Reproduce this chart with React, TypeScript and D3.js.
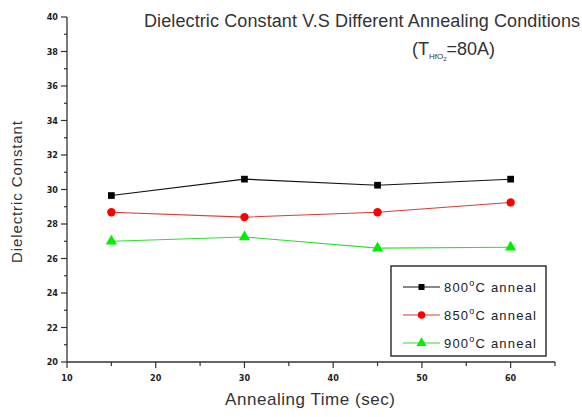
import React, { useEffect, useRef } from "react";
import * as d3 from "d3";

const times = [15, 30, 45, 60];
const anneal800 = [29.65, 30.6, 30.25, 30.6];
const anneal850 = [28.68, 28.4, 28.68, 29.25];
const anneal900 = [27.0, 27.25, 26.6, 26.65];
const seriesNames = ["800", "850", "900"];
const xTicks = [10, 20, 30, 40, 50, 60];
const yTicks = [20, 22, 24, 26, 28, 30, 32, 34, 36, 38, 40];

const App = () => {
  const ref = useRef<SVGSVGElement>(null);

  useEffect(() => {
    const svg = d3.select(ref.current);
    svg.selectAll("*").remove();

    const x = d3.scaleLinear().domain([10, 65]).range([67, 555]);
    const y = d3.scaleLinear().domain([20, 40]).range([362, 17]);

    const tickFont = "bold 9px 'DejaVu Sans Condensed', 'DejaVu Sans', sans-serif";
    const axisColor = "#333";

    // x axis
    const gx = svg.append("g");
    gx.append("line")
      .attr("x1", x(10)).attr("x2", x(65))
      .attr("y1", y(20)).attr("y2", y(20))
      .attr("stroke", axisColor).attr("stroke-width", 1.3);
    d3.range(10, 66, 5).forEach((v) => {
      const major = v % 10 === 0;
      gx.append("line")
        .attr("x1", x(v)).attr("x2", x(v))
        .attr("y1", y(20)).attr("y2", y(20) + (major ? 6 : 4))
        .attr("stroke", axisColor).attr("stroke-width", 1.2);
    });
    xTicks.forEach((v) => {
      gx.append("text")
        .attr("x", x(v)).attr("y", y(20) + 19)
        .attr("text-anchor", "middle")
        .style("font", tickFont).attr("fill", "#222")
        .text(v);
    });

    // y axis
    const gy = svg.append("g");
    gy.append("line")
      .attr("x1", x(10)).attr("x2", x(10))
      .attr("y1", y(20)).attr("y2", y(40))
      .attr("stroke", axisColor).attr("stroke-width", 1.3);
    d3.range(20, 40.5, 1).forEach((v) => {
      const major = v % 2 === 0;
      gy.append("line")
        .attr("x1", x(10) - (major ? 6 : 3)).attr("x2", x(10))
        .attr("y1", y(v)).attr("y2", y(v))
        .attr("stroke", axisColor).attr("stroke-width", 1.2);
    });
    yTicks.forEach((v) => {
      gy.append("text")
        .attr("x", x(10) - 9).attr("y", y(v) + 3)
        .attr("text-anchor", "end")
        .style("font", tickFont).attr("fill", "#222")
        .text(v);
    });

    // axis titles
    svg.append("text")
      .attr("x", 310).attr("y", 405)
      .attr("text-anchor", "middle")
      .style("font", "17px 'Liberation Sans', Arial, sans-serif")
      .attr("fill", "#333")
      .attr("textLength", 170)
      .text("Annealing Time (sec)");
    svg.append("text")
      .attr("transform", "translate(22,192) rotate(-90)")
      .attr("text-anchor", "middle")
      .style("font", "15px 'Liberation Sans', Arial, sans-serif")
      .attr("fill", "#333")
      .attr("textLength", 142)
      .text("Dielectric Constant");

    // chart title
    svg.append("text")
      .attr("x", 144).attr("y", 27)
      .style("font", "18px 'Liberation Sans', Arial, sans-serif")
      .attr("fill", "#333")
      .attr("textLength", 436)
      .text("Dielectric Constant V.S Different Annealing Conditions");
    const sub = svg.append("text")
      .attr("x", 412).attr("y", 55)
      .style("font", "18px 'Liberation Sans', Arial, sans-serif")
      .attr("fill", "#333");
    sub.append("tspan").text("(T");
    sub.append("tspan").attr("dy", 4).style("font-size", "8px").text("HfO");
    sub.append("tspan").attr("dy", 2).style("font-size", "6px").text("2");
    sub.append("tspan").attr("dy", -6).text("=80A)");

    const series = [
      { name: seriesNames[0], values: anneal800, line: "#111", fill: "#000", shape: d3.symbolSquare, size: 45 },
      { name: seriesNames[1], values: anneal850, line: "#d93a3a", fill: "#ff0000", shape: d3.symbolCircle, size: 55 },
      { name: seriesNames[2], values: anneal900, line: "#33dd33", fill: "#00ee00", shape: d3.symbolTriangle, size: 55 },
    ];

    const lineGen = d3.line<number>()
      .x((_, i) => x(times[i]))
      .y((d) => y(d));

    series.forEach((s) => {
      svg.append("path")
        .attr("d", lineGen(s.values))
        .attr("fill", "none")
        .attr("stroke", s.line)
        .attr("stroke-width", 1.1);
      svg.selectAll(null)
        .data(s.values)
        .enter().append("path")
        .attr("d", d3.symbol().type(s.shape).size(s.size)())
        .attr("transform", (d, i) => `translate(${x(times[i])},${y(d)})`)
        .attr("fill", s.fill);
    });

    // legend
    const lg = svg.append("g");
    lg.append("rect")
      .attr("x", 391).attr("y", 266)
      .attr("width", 155).attr("height", 90)
      .attr("fill", "white")
      .attr("stroke", "#333").attr("stroke-width", 1.5);
    series.forEach((s, i) => {
      const ly = 287 + i * 28;
      lg.append("line")
        .attr("x1", 403).attr("x2", 440)
        .attr("y1", ly).attr("y2", ly)
        .attr("stroke", s.line).attr("stroke-width", 1.1);
      lg.append("path")
        .attr("d", d3.symbol().type(s.shape).size(s.size * 0.8)())
        .attr("transform", `translate(421.5,${ly})`)
        .attr("fill", s.fill);
      const t = lg.append("text")
        .attr("x", 444).attr("y", ly + 5)
        .style("font", "13px 'Liberation Sans', Arial, sans-serif")
        .style("letter-spacing", "1.2px")
        .attr("fill", "#222");
      t.append("tspan").text(s.name);
      t.append("tspan").attr("dy", -6).style("font-size", "9px").text("o");
      t.append("tspan").attr("dy", 6).text("C anneal");
    });
  }, []);

  return (
    <svg ref={ref} width={582} height={417} style={{ position: "absolute", left: 0, top: 0, background: "white" }} />
  );
};

export default App;
